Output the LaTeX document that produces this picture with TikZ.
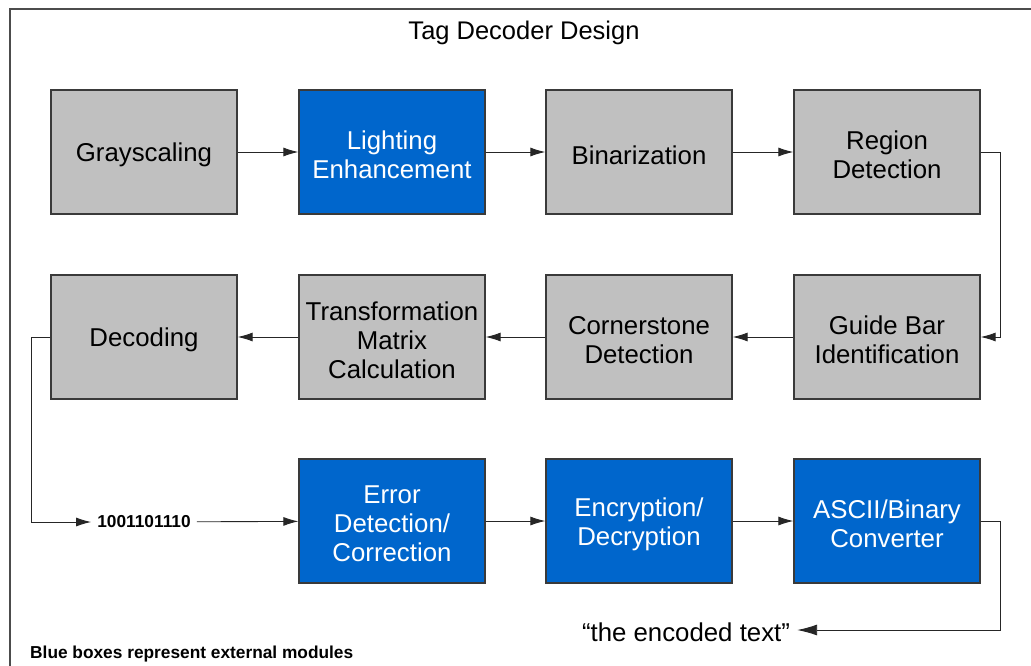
\documentclass[tikz,border=0pt]{standalone}
\usepackage{fontspec}
\setmainfont{Liberation Sans}
\usetikzlibrary{arrows.meta}
\definecolor{boxgray}{HTML}{C0C0C0}
\definecolor{boxblue}{HTML}{0066CC}
\definecolor{edgegray}{HTML}{3A3A3A}
\begin{document}
\begin{tikzpicture}[x=1pt,y=-1pt,
  stage/.style={draw=edgegray,line width=1.3pt,minimum width=186pt,minimum height=124pt,inner sep=0pt},
  lab/.style={align=center,font=\fontsize{25.8}{29}\selectfont,yshift=-3pt},
  grey/.style={stage,fill=boxgray},
  ext/.style={stage,fill=boxblue},
  gtext/.style={label={[lab,text=black]center:#1}},
  btext/.style={label={[lab,text=white]center:#1}},
  conn/.style={draw=black!85,line width=0.9pt,-{Latex[length=15pt,width=9pt]}},
  bigconn/.style={draw=black!85,line width=0.9pt,-{Latex[length=20pt,width=11pt]}},
  small/.style={font=\fontsize{17.3}{20}\selectfont\bfseries}]
\clip (0,0) rectangle (1031,665);
\fill[white] (0,0) rectangle (1031,665);
\draw[draw=black!70,line width=1.3pt] (10,9) rectangle (1060,700);
\node[font=\fontsize{25.5}{29}\selectfont] (title) at (524,33) {Tag Decoder Design};
% row 1
\node[grey,gtext={Grayscaling}] (gray) at (144,152) {};
\node[ext,btext={Lighting\\Enhancement}] (light) at (392,152) {};
\node[grey,gtext={Binarization}] (bin) at (639,152) {};
\node[grey,gtext={Region\\Detection}] (region) at (887,152) {};
% row 2
\node[grey,gtext={Guide Bar\\Identification}] (guide) at (887,337) {};
\node[grey,gtext={Cornerstone\\Detection}] (corner) at (639,337) {};
\node[grey,gtext={Transformation\\Matrix\\Calculation}] (trans) at (392,337) {};
\node[grey,gtext={Decoding}] (dec) at (144,337) {};
% row 3
\node[small,inner xsep=6pt] (bits) at (144,522) {1001101110};
\node[ext,btext={Error\\Detection/\\Correction}] (err) at (392,521) {};
\node[ext,btext={Encryption/\\Decryption}] (enc) at (639,521) {};
\node[ext,btext={ASCII/Binary\\Converter}] (ascii) at (887,521) {};
\node[font=\fontsize{25.8}{29}\selectfont,inner xsep=7pt] (out) at (686,632) {\char"201C the encoded text\char"201D};
\node[small,anchor=west,inner sep=0pt] (legend) at (30,654) {Blue boxes represent external modules};
\coordinate (c1) at (1000,152);
\coordinate (c2) at (1000,337);
\coordinate (c3) at (31,337);
\coordinate (c4) at (31,522);
\coordinate (c5) at (1000,521);
\coordinate (c6) at (1000,630);
\draw[conn] (gray) -- (light);
\draw[conn] (light) -- (bin);
\draw[conn] (bin) -- (region);
\draw[conn] (region.east) -- (c1) -- (c2) -- (guide.east);
\draw[conn] (guide) -- (corner);
\draw[conn] (corner) -- (trans);
\draw[conn] (trans) -- (dec);
\draw[conn] (dec.west) -- (c3) -- (c4) -- (bits.west);
\draw[conn] (bits) -- (err);
\draw[conn] (err) -- (enc);
\draw[conn] (enc) -- (ascii);
\draw[bigconn] (ascii.east) -- (c5) -- (c6) -- (out.east |- c6);
\end{tikzpicture}
\end{document}
